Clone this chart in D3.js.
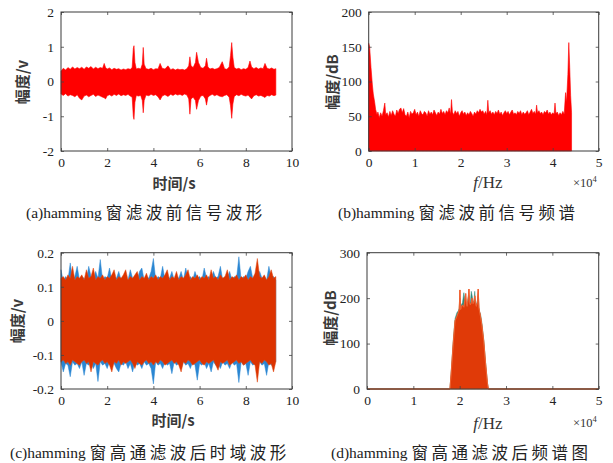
<!DOCTYPE html>
<html><head><meta charset="utf-8">
<script src="https://cdn.jsdelivr.net/npm/d3@7"></script>
<style>
html,body{margin:0;padding:0;background:#fff;}
svg{display:block;}
</style></head>
<body>
<svg id="c" width="613" height="463"></svg>
<script>
// ---------- Data ----------
// (a) signal before filtering: envelope of the dense waveform
const tA = [0.00,0.10,0.20,0.30,0.40,0.50,0.60,0.70,0.80,0.90,1.00,1.10,1.20,1.30,1.40,1.50,1.60,1.70,1.80,1.87,1.93,2.00,2.10,2.20,2.30,2.40,2.50,2.60,2.70,2.80,2.90,3.00,3.08,3.13,3.16,3.20,3.26,3.35,3.45,3.52,3.56,3.60,3.68,3.80,3.90,4.00,4.10,4.20,4.29,4.38,4.50,4.63,4.75,4.85,4.95,5.05,5.15,5.25,5.35,5.45,5.53,5.58,5.63,5.72,5.82,5.87,5.95,6.05,6.15,6.25,6.30,6.36,6.45,6.55,6.65,6.75,6.85,6.98,7.08,7.18,7.28,7.34,7.39,7.44,7.50,7.60,7.70,7.80,7.90,8.00,8.10,8.18,8.25,8.35,8.45,8.55,8.65,8.75,8.83,8.92,9.02,9.12,9.22,9.30];
const upA = [0.30,0.38,0.33,0.40,0.35,0.42,0.36,0.40,0.37,0.41,0.35,0.42,0.38,0.43,0.36,0.41,0.37,0.40,0.38,0.52,0.40,0.36,0.39,0.34,0.38,0.35,0.37,0.33,0.36,0.34,0.37,0.35,0.40,0.95,1.03,0.55,0.36,0.38,0.36,0.50,0.98,0.50,0.37,0.35,0.38,0.34,0.37,0.36,0.52,0.38,0.36,0.45,0.34,0.37,0.33,0.36,0.34,0.35,0.33,0.37,0.45,0.71,0.45,0.40,0.55,0.84,0.55,0.40,0.38,0.45,0.67,0.42,0.36,0.38,0.35,0.37,0.40,0.57,0.37,0.35,0.42,0.75,1.12,0.70,0.40,0.36,0.38,0.34,0.37,0.35,0.40,0.59,0.42,0.37,0.40,0.36,0.39,0.37,0.52,0.38,0.36,0.39,0.35,0.37];
const loA = [-0.36,-0.40,-0.35,-0.42,-0.38,-0.40,-0.44,-0.38,-0.48,-0.53,-0.42,-0.39,-0.44,-0.40,-0.37,-0.43,-0.39,-0.42,-0.45,-0.47,-0.50,-0.41,-0.38,-0.42,-0.37,-0.40,-0.36,-0.41,-0.38,-0.40,-0.37,-0.42,-0.45,-1.00,-1.09,-0.60,-0.40,-0.42,-0.40,-0.55,-0.90,-0.55,-0.39,-0.41,-0.37,-0.40,-0.38,-0.44,-0.53,-0.42,-0.38,-0.43,-0.37,-0.40,-0.36,-0.39,-0.37,-0.40,-0.36,-0.39,-0.50,-0.94,-0.50,-0.45,-0.55,-0.80,-0.55,-0.42,-0.40,-0.50,-0.68,-0.45,-0.40,-0.37,-0.41,-0.38,-0.42,-0.44,-0.40,-0.38,-0.45,-0.70,-1.06,-0.65,-0.43,-0.38,-0.41,-0.37,-0.40,-0.42,-0.39,-0.45,-0.50,-0.41,-0.38,-0.42,-0.40,-0.43,-0.46,-0.40,-0.42,-0.38,-0.41,-0.39];

// (b) spectrum before filtering (Hz, dB)
const fB = [0,200,500,800,1000,1300,1500,1800,2000,2300,2600,2900,3200,3500,3700,4000,4300,4600,4900,5200,5500,5800,6100,6400,6700,7000,7300,7600,7900,8200,8500,8800,9100,9400,9700,10000,10300,10600,10900,11200,11500,11800,12100,12400,12700,13000,13300,13600,13900,14200,14500,14800,15100,15400,15700,16000,16300,16600,16900,17200,17500,17800,18000,18200,18500,18800,19100,19400,19700,20000,20300,20600,20900,21200,21500,21800,22100,22400,22700,23000,23300,23600,23900,24200,24500,24800,25100,25400,25700,25900,26100,26400,26700,27000,27300,27600,27900,28200,28500,28800,29100,29400,29700,30000,30300,30600,30900,31200,31500,31800,32100,32400,32700,33000,33300,33600,33900,34200,34500,34800,35100,35400,35700,36000,36300,36500,36700,37000,37300,37600,37900,38200,38500,38800,39100,39400,39700,40000,40300,40500,40700,41000,41300,41600,41900,42200,42500,42800,43000,43300,43500,43700,43900,44100];
const magB = [155,150,120,95,82,70,60,52,56,48,55,50,58,69,52,55,49,57,51,58,53,50,59,54,60,62,55,61,52,50,56,48,57,53,55,60,52,56,50,58,54,52,57,55,50,58,53,56,52,59,55,51,56,53,60,54,57,52,58,55,62,53,74,56,52,58,54,57,50,55,58,53,56,51,55,52,57,54,50,56,53,58,55,60,56,58,53,57,52,73,55,58,53,56,52,57,54,59,53,56,51,55,58,54,57,52,56,59,53,55,52,57,54,58,52,56,53,55,58,52,56,60,54,57,53,66,55,58,54,56,52,57,55,59,53,56,52,55,53,69,54,56,51,55,52,57,53,84,70,110,156,120,80,55];

// (c) time-domain waveform after high-pass filtering (two channels)
const tC = [0.0,0.1,0.2,0.3,0.4,0.5,0.6,0.7,0.8,0.9,1.0,1.1,1.2,1.3,1.4,1.5,1.6,1.7,1.8,1.9,2.0,2.1,2.2,2.3,2.4,2.5,2.6,2.7,2.8,2.9,3.0,3.1,3.2,3.3,3.4,3.5,3.6,3.7,3.8,3.9,4.0,4.1,4.2,4.3,4.4,4.5,4.6,4.7,4.8,4.9,5.0,5.1,5.2,5.3,5.4,5.5,5.6,5.7,5.8,5.9,6.0,6.1,6.2,6.3,6.4,6.5,6.6,6.7,6.8,6.9,7.0,7.1,7.2,7.3,7.4,7.5,7.6,7.7,7.8,7.9,8.0,8.1,8.2,8.3,8.4,8.5,8.6,8.7,8.8,8.9,9.0,9.1,9.2,9.3];
const redUpC = [0.125,0.13,0.12,0.135,0.125,0.16,0.12,0.13,0.125,0.135,0.12,0.15,0.125,0.13,0.155,0.12,0.13,0.125,0.135,0.12,0.13,0.125,0.135,0.15,0.12,0.13,0.125,0.135,0.15,0.12,0.13,0.125,0.135,0.145,0.12,0.13,0.125,0.14,0.12,0.13,0.125,0.135,0.12,0.13,0.125,0.135,0.15,0.12,0.13,0.125,0.145,0.12,0.13,0.125,0.135,0.15,0.12,0.13,0.125,0.135,0.12,0.13,0.125,0.135,0.12,0.15,0.125,0.13,0.12,0.135,0.125,0.13,0.15,0.12,0.13,0.125,0.135,0.12,0.13,0.125,0.135,0.12,0.13,0.125,0.14,0.183,0.13,0.125,0.135,0.12,0.13,0.15,0.125,0.13];
const redLoC = [-0.12,-0.115,-0.125,-0.12,-0.13,-0.115,-0.12,-0.125,-0.13,-0.12,-0.115,-0.125,-0.12,-0.15,-0.12,-0.125,-0.13,-0.12,-0.115,-0.125,-0.12,-0.13,-0.15,-0.12,-0.125,-0.115,-0.13,-0.12,-0.125,-0.12,-0.115,-0.125,-0.14,-0.12,-0.125,-0.13,-0.12,-0.115,-0.125,-0.12,-0.13,-0.12,-0.125,-0.115,-0.12,-0.13,-0.125,-0.12,-0.115,-0.125,-0.12,-0.13,-0.15,-0.12,-0.125,-0.115,-0.12,-0.13,-0.125,-0.12,-0.115,-0.125,-0.13,-0.12,-0.125,-0.12,-0.115,-0.13,-0.145,-0.12,-0.125,-0.12,-0.115,-0.13,-0.125,-0.12,-0.115,-0.125,-0.12,-0.13,-0.125,-0.12,-0.115,-0.125,-0.13,-0.18,-0.12,-0.125,-0.115,-0.12,-0.13,-0.125,-0.15,-0.12];
const blueUpC = [0.15,0.115,0.13,0.12,0.17,0.12,0.13,0.16,0.12,0.13,0.125,0.12,0.16,0.13,0.12,0.145,0.125,0.18,0.12,0.13,0.125,0.155,0.12,0.13,0.125,0.145,0.12,0.13,0.125,0.12,0.15,0.125,0.13,0.12,0.145,0.155,0.12,0.13,0.125,0.145,0.183,0.12,0.13,0.125,0.16,0.12,0.13,0.125,0.145,0.12,0.13,0.125,0.145,0.12,0.155,0.125,0.13,0.12,0.145,0.125,0.13,0.12,0.155,0.125,0.13,0.12,0.145,0.125,0.13,0.16,0.12,0.13,0.125,0.145,0.12,0.13,0.125,0.188,0.12,0.13,0.125,0.145,0.16,0.125,0.13,0.12,0.145,0.125,0.13,0.12,0.16,0.125,0.13,0.12];
const blueLoC = [-0.12,-0.15,-0.125,-0.13,-0.164,-0.12,-0.13,-0.125,-0.14,-0.12,-0.16,-0.125,-0.13,-0.12,-0.14,-0.125,-0.178,-0.12,-0.13,-0.125,-0.14,-0.12,-0.13,-0.125,-0.14,-0.15,-0.125,-0.13,-0.12,-0.14,-0.125,-0.15,-0.12,-0.13,-0.125,-0.14,-0.12,-0.13,-0.125,-0.14,-0.185,-0.12,-0.13,-0.125,-0.14,-0.12,-0.13,-0.125,-0.155,-0.12,-0.13,-0.125,-0.14,-0.12,-0.13,-0.125,-0.14,-0.12,-0.13,-0.174,-0.125,-0.13,-0.12,-0.14,-0.125,-0.15,-0.12,-0.13,-0.125,-0.14,-0.12,-0.13,-0.125,-0.14,-0.12,-0.13,-0.125,-0.181,-0.12,-0.13,-0.125,-0.16,-0.12,-0.13,-0.125,-0.14,-0.12,-0.13,-0.125,-0.16,-0.12,-0.13,-0.125,-0.12];

// (d) spectrum after high-pass filtering (Hz, dB), two channels
const fD = [0,17900,18200,18600,19000,19400,19700,19900,20050,20200,20350,20600,20900,21100,21300,21450,21600,21800,22000,22150,22300,22500,22700,22900,23100,23250,23400,23600,23800,24000,24150,24300,24500,24800,25200,25600,26000,26200,50000];
const redD  = [0,0,40,100,150,160,168,175,218,175,180,185,180,195,210,188,182,195,220,190,185,190,200,188,192,205,190,182,190,220,180,170,160,140,105,55,12,0,0];
const blueD = [0,0,42,105,155,168,172,178,200,180,185,190,212,198,190,186,185,200,205,195,190,215,205,190,195,215,195,185,192,205,178,170,165,145,108,58,14,0,0];

// Tick values and labels
const ticksAx = [0,2,4,6,8,10];
const ticksAy = [-2,-1,0,1,2];
const ticksBx = [0,10000,20000,30000,40000,50000];
const ticksBy = [0,50,100,150,200];
const ticksCx = [0,2,4,6,8,10];
const ticksCy = [-0.2,-0.1,0,0.1,0.2];
const ticksDx = [0,10000,20000,30000,40000,50000];
const ticksDy = [0,100,200,300];
const capTags = ["(a)hamming ","(b)hamming ","(c)hamming ","(d)hamming "];
const capTexts = ["窗滤波前信号波形","窗滤波前信号频谱","窗高通滤波后时域波形","窗高通滤波后频谱图"];

// ---------- Drawing ----------
const svg = d3.select("#c");
const SERIF = "'Liberation Serif','DejaVu Serif',serif";
const CJK = "'Noto Sans CJK SC','Liberation Serif',sans-serif";

function frame(box, xDomain, yDomain){
  const x = d3.scaleLinear().domain(xDomain).range([box.x0, box.x1]);
  const y = d3.scaleLinear().domain(yDomain).range([box.y1, box.y0]);
  const g = svg.append("g");
  return {x, y, g};
}
function axes(p, box, xt, yt, xfmt, yfmt){
  const {x, y} = p;
  const g = svg.append("g");
  const style = sel => {
    sel.select(".domain").remove();
    sel.selectAll(".tick line").attr("stroke","#444").attr("stroke-width",0.8);
    sel.selectAll(".tick text").attr("font-family",SERIF).attr("font-size",13.5).attr("fill","#222");
  };
  g.append("g").attr("transform",`translate(0,${box.y1})`)
    .call(d3.axisBottom(x).tickValues(xt).tickFormat(xfmt).tickSizeInner(-3).tickSizeOuter(0).tickPadding(6)).call(style);
  g.append("g").attr("transform",`translate(0,${box.y0})`)
    .call(d3.axisTop(x).tickValues(xt).tickFormat("").tickSizeInner(-3).tickSizeOuter(0)).call(style);
  g.append("g").attr("transform",`translate(${box.x0},0)`)
    .call(d3.axisLeft(y).tickValues(yt).tickFormat(yfmt).tickSizeInner(-3).tickSizeOuter(0).tickPadding(7)).call(style);
  g.append("g").attr("transform",`translate(${box.x1},0)`)
    .call(d3.axisRight(y).tickValues(yt).tickFormat("").tickSizeInner(-3).tickSizeOuter(0)).call(style);
  g.append("rect").attr("x",box.x0).attr("y",box.y0).attr("width",box.x1-box.x0).attr("height",box.y1-box.y0)
    .attr("fill","none").attr("stroke","#3a3a3a").attr("stroke-width",1);
}
function ylabel(txt, cx, cy){
  svg.append("text").attr("transform",`translate(${cx},${cy}) rotate(-90)`)
    .attr("text-anchor","middle").attr("dominant-baseline","central")
    .attr("font-family",CJK).attr("font-size",15).attr("font-weight",700).attr("fill","#3a3a3a").text(txt);
}
function xlabelTime(cx, cy){
  svg.append("text").attr("x",cx).attr("y",cy).attr("text-anchor","middle").attr("dominant-baseline","central")
    .attr("font-family",CJK).attr("font-size",15).attr("font-weight",700).attr("fill","#3a3a3a").text("时间/s");
}
function xlabelHz(cx, cy){
  const t = svg.append("text").attr("x",cx).attr("y",cy).attr("text-anchor","middle").attr("dominant-baseline","central")
    .attr("font-family",SERIF).attr("font-size",17).attr("fill","#333");
  t.append("tspan").attr("font-style","italic").text("f");
  t.append("tspan").text("/Hz");
}
function expo(x, y){
  const t = svg.append("text").attr("x",x).attr("y",y).attr("font-family",SERIF).attr("font-size",12.5).attr("fill","#333");
  t.append("tspan").text("×10");
  t.append("tspan").attr("font-size",8.5).attr("dy",-5).text("4");
}
function caption(tag, txt, x, cy){
  const t = svg.append("text").attr("x",x).attr("y",cy).attr("dominant-baseline","central").attr("fill","#222");
  t.append("tspan").attr("font-family",SERIF).attr("font-size",15.5).text(tag);
  t.append("tspan").attr("font-family",CJK).attr("font-size",16.5).attr("letter-spacing",3.5).text(txt);
}
const fmtNum = d => (d<0?"-":"") + Math.abs(d);
const fmtE4 = d => String(d/10000);

// Panel (a)
const boxA = {x0:61, x1:292, y0:12, y1:151};
const pA = frame(boxA,[0,10],[-2,2]);
pA.g.append("path").datum(d3.range(tA.length))
  .attr("d", d3.area().x(i=>pA.x(tA[i])).y0(i=>pA.y(loA[i])).y1(i=>pA.y(upA[i])))
  .attr("fill","#ff0000").attr("stroke","#ff0000").attr("stroke-width",0.6);
axes(pA, boxA, ticksAx, ticksAy, fmtNum, fmtNum);
ylabel("幅度/v", 21, 82);
xlabelTime(174, 182);

// Panel (b)
const boxB = {x0:368.7, x1:598.7, y0:12, y1:151};
const pB = frame(boxB,[0,50000],[0,200]);
pB.g.append("path").datum(d3.range(fB.length))
  .attr("d", d3.area().x(i=>pB.x(fB[i])).y0(pB.y(0)).y1(i=>pB.y(magB[i])))
  .attr("fill","#ff0000").attr("stroke","#ff0000").attr("stroke-width",0.6);
axes(pB, boxB, ticksBx, ticksBy, fmtE4, fmtNum);
ylabel("幅度/dB", 331, 82);
xlabelHz(488, 182);
expo(573, 187);

// Panel (c)
const boxC = {x0:61, x1:292, y0:252.7, y1:389};
const pC = frame(boxC,[0,10],[-0.2,0.2]);
const idxC = d3.range(tC.length);
pC.g.append("path").datum(idxC)
  .attr("d", d3.area().x(i=>pC.x(tC[i])).y0(i=>pC.y(blueLoC[i])).y1(i=>pC.y(blueUpC[i])))
  .attr("fill","#2a86d2").attr("stroke","#2a86d2").attr("stroke-width",0.5);
pC.g.append("path").datum(idxC)
  .attr("d", d3.area().x(i=>pC.x(tC[i])).y0(i=>pC.y(redLoC[i])).y1(i=>pC.y(redUpC[i])))
  .attr("fill","#dc3300").attr("stroke","#e24a12").attr("stroke-width",0.5);
axes(pC, boxC, ticksCx, ticksCy, fmtNum, fmtNum);
ylabel("幅度/v", 16, 321);
xlabelTime(173, 419);

// Panel (d)
const boxD = {x0:367, x1:598.7, y0:252.7, y1:389};
const pD = frame(boxD,[0,50000],[0,300]);
const idxD = d3.range(fD.length);
pD.g.append("path").datum(idxD)
  .attr("d", d3.area().x(i=>pD.x(fD[i])).y0(pD.y(0)).y1(i=>pD.y(blueD[i])))
  .attr("fill","#2f8a7a").attr("stroke","#2f8a7a").attr("stroke-width",0.5);
pD.g.append("path").datum(idxD)
  .attr("d", d3.area().x(i=>pD.x(fD[i])).y0(pD.y(0)).y1(i=>pD.y(redD[i])))
  .attr("fill","#e03a08").attr("stroke","#f0642a").attr("stroke-width",0.6);
pD.g.append("path").datum(idxD)
  .attr("d", d3.line().x(i=>pD.x(fD[i])).y(i=>pD.y(redD[i])))
  .attr("fill","none").attr("stroke","#f06030").attr("stroke-width",1);
axes(pD, boxD, ticksDx, ticksDy, fmtE4, fmtNum);
ylabel("幅度/dB", 329, 318);
xlabelHz(488, 423);
expo(573, 427);

// Captions
caption(capTags[0], capTexts[0], 26, 212);
caption(capTags[1], capTexts[1], 338, 212);
caption(capTags[2], capTexts[2], 10, 452);
caption(capTags[3], capTexts[3], 331, 452);
</script>
</body></html>
